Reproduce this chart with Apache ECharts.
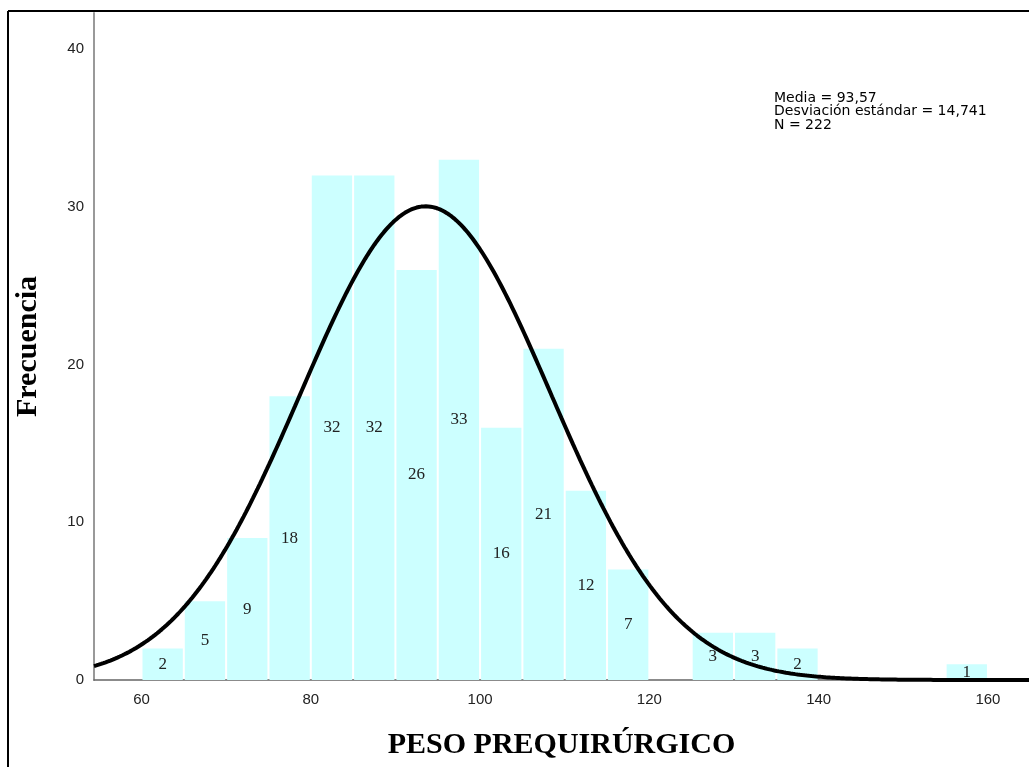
<!DOCTYPE html>
<html>
<head>
<meta charset="utf-8">
<script src="https://cdn.jsdelivr.net/npm/echarts@6/dist/echarts.min.js"></script>
<style>
  html, body { margin: 0; padding: 0; background: #fff; }
  #chart { width: 1029px; height: 767px; }
</style>
</head>
<body>
<div id="chart"></div>
<script>
// Histogram of pre-surgical weight, bins of width 5
const binStarts = [60, 65, 70, 75, 80, 85, 90, 95, 100, 105, 110, 115, 125, 130, 135, 155];
const binCounts = [2, 5, 9, 18, 32, 32, 26, 33, 16, 21, 12, 7, 3, 3, 2, 1];
const binWidth = 5;

// Summary statistics shown in the annotation
const statMean = 93.57;
const statSd = 14.741;
const statN = 222;

const xTickValues = [60, 80, 100, 120, 140, 160];
const yTickValues = [0, 10, 20, 30, 40];

const xMin = 54.39, xMax = 164.85;

// Fitted normal curve scaled to frequency per bin
function normalFreq(x) {
  const z = (x - statMean) / statSd;
  return statN * binWidth * Math.exp(-0.5 * z * z) / (statSd * Math.sqrt(2 * Math.PI));
}
const curve = [];
for (let i = 0; i <= 400; i++) {
  const x = xMin + (xMax - xMin) * i / 400;
  curve.push([x, normalFreq(x)]);
}

const barData = binStarts.map((s, i) => [s, s + binWidth, binCounts[i]]);

const chart = echarts.init(document.getElementById('chart'), null, { renderer: 'canvas' });

chart.setOption({
  animation: false,
  grid: { left: 94, right: 0, top: 13, bottom: 87, containLabel: false, outerBoundsMode: 'none' },
  xAxis: {
    type: 'value',
    min: xMin,
    max: xMax,
    splitLine: { show: false },
    axisLine: { show: true, lineStyle: { color: '#666', width: 1.5 } },
    axisTick: { show: false },
    axisLabel: {
      customValues: xTickValues,
      color: '#222',
      fontFamily: 'Liberation Sans',
      fontSize: 15,
      margin: 12
    },
    name: 'PESO PREQUIRÚRGICO',
    nameLocation: 'middle',
    nameGap: 50,
    nameTextStyle: {
      fontFamily: 'Liberation Serif',
      fontWeight: 'bold',
      fontSize: 30,
      color: '#000'
    }
  },
  yAxis: {
    type: 'value',
    min: 0,
    max: 42.3,
    splitLine: { show: false },
    axisLine: { show: true, lineStyle: { color: '#999', width: 2 } },
    axisTick: { show: false },
    axisLabel: {
      customValues: yTickValues,
      color: '#222',
      fontFamily: 'Liberation Sans',
      fontSize: 15,
      margin: 10
    },
    name: 'Frecuencia',
    nameLocation: 'middle',
    nameGap: 51,
    nameTextStyle: {
      fontFamily: 'Liberation Serif',
      fontWeight: 'bold',
      fontSize: 30,
      color: '#000'
    }
  },
  series: [
    {
      type: 'custom',
      z: 2,
      data: barData,
      encode: { x: [0, 1], y: 2 },
      renderItem: function (params, api) {
        const p0 = api.coord([api.value(0), 0]);
        const p1 = api.coord([api.value(1), api.value(2)]);
        const x = p0[0] + 1, w = p1[0] - p0[0] - 2;
        const y = p1[1], h = p0[1] - p1[1];
        return {
          type: 'group',
          children: [
            { type: 'rect', shape: { x: x, y: y, width: w, height: h },
              style: { fill: '#CCFFFF' } },
            { type: 'text', z2: 10,
              style: {
                text: String(api.value(2)),
                x: x + w / 2, y: y + h / 2,
                align: 'center', verticalAlign: 'middle',
                fontFamily: 'Liberation Serif', fontSize: 17, fill: '#222'
              } }
          ]
        };
      }
    },
    {
      type: 'line',
      z: 3,
      data: curve,
      showSymbol: false,
      smooth: false,
      lineStyle: { color: '#000', width: 4 }
    }
  ],
  graphic: [
    { type: 'line', shape: { x1: 8, y1: 11, x2: 1029, y2: 11 },
      style: { stroke: '#000', lineWidth: 2 } },
    { type: 'line', shape: { x1: 8, y1: 11, x2: 8, y2: 767 },
      style: { stroke: '#000', lineWidth: 2 } },
    { type: 'text', left: 774, top: 91,
      style: {
        text: 'Media = ' + statMean.toFixed(2).replace('.', ',') +
              '\nDesviación estándar = ' + statSd.toFixed(3).replace('.', ',') +
              '\nN = ' + statN,
        fontFamily: 'DejaVu Sans', fontSize: 14, lineHeight: 13.5, fill: '#000'
      } }
  ]
});
</script>
</body>
</html>
